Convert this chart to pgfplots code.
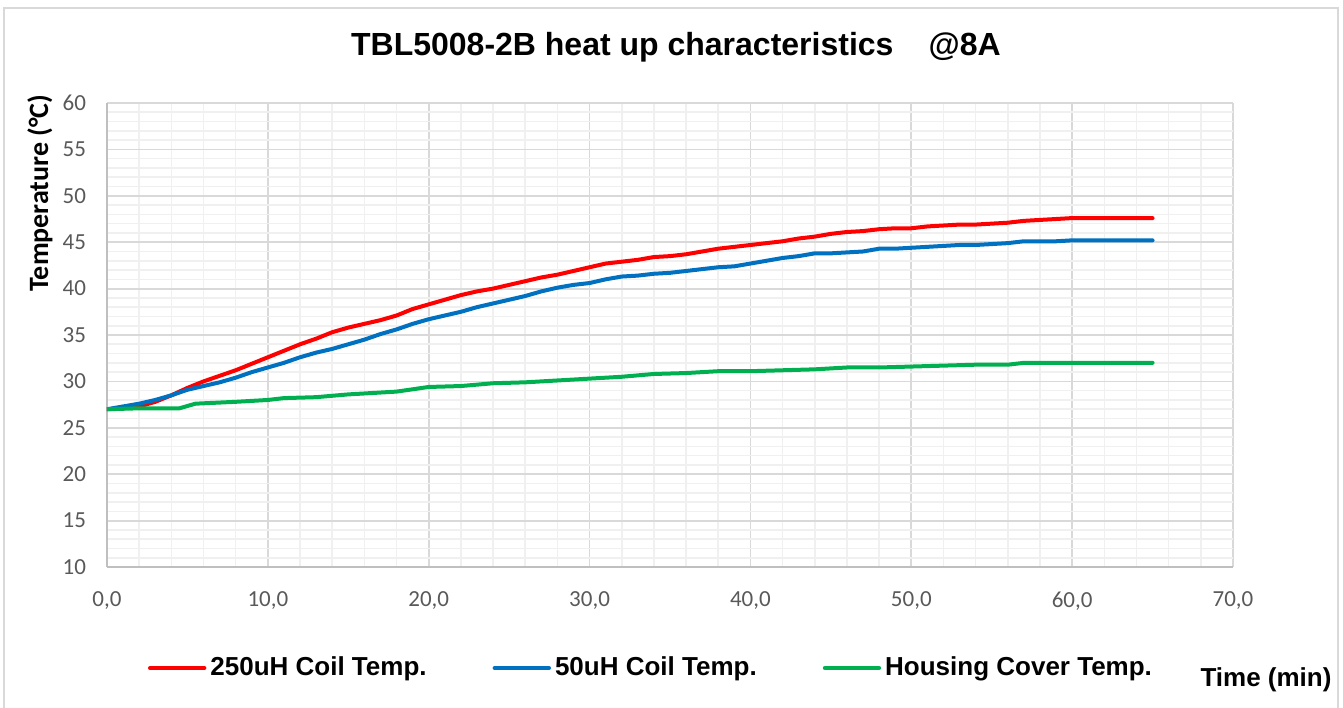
\documentclass[border=0pt]{standalone}
\usepackage{pgfplots}
\pgfplotsset{compat=1.18}
\usepackage{fontspec}
\setmainfont{Liberation Sans}
\newfontfamily\carlito{Carlito}
\definecolor{cred}{HTML}{FF0000}
\definecolor{cblue}{HTML}{0070C0}
\definecolor{cgreen}{HTML}{00B050}
\definecolor{gmaj}{HTML}{D9D9D9}
\definecolor{gmin}{HTML}{F0F0F0}
\definecolor{gax}{HTML}{BFBFBF}
\definecolor{tickc}{HTML}{595959}
\begin{document}
\begin{tikzpicture}
\path[use as bounding box] (-53.5pt,-70pt) rectangle (618pt,283.5pt);
\draw[gmaj, line width=0.8pt] (-51.5pt,-75pt) rectangle (615.5pt,279.5pt);
\begin{axis}[
  scale only axis, width=563pt, height=232pt,
  at={(0,0)}, anchor=south west,
  xmin=0, xmax=70, ymin=10, ymax=60,
  xtick={0,10,...,70}, ytick={10,15,...,60},
  minor x tick num=4, minor y tick num=4,
  grid=both,
  major grid style={gmaj, line width=0.9pt},
  minor grid style={gmin, line width=0.8pt},
  axis x line*=bottom, axis y line*=left,
  axis line style={gax, line width=1pt},
  major tick length=0pt, minor tick length=0pt,
  /pgf/number format/assume math mode=true,
  xticklabel style={/pgf/number format/.cd, fixed, fixed zerofill, precision=1, use comma},
  yticklabel style={/pgf/number format/.cd, fixed, precision=0},
  tick label style={font=\carlito\fontsize{11.5}{12}\selectfont, text=tickc},
  xticklabel shift=9pt, yticklabel shift=7pt,
  legend columns=3,
  legend style={draw=none, fill=none, inner sep=0pt, outer sep=0pt,
    at={(axis description cs:0.0364,-0.2177)}, anchor=west,
    font=\bfseries\fontsize{13}{14}\selectfont,
    /tikz/every even column/.append style={column sep=31pt},
    nodes={inner xsep=2pt, inner ysep=1pt}},
  legend image code/.code={\draw[line width=2.2pt] (0pt,0pt) -- (27pt,0pt);},
  every axis plot/.append style={line width=2pt, line join=round, line cap=round},
]
\addplot[cred] coordinates {
(0,27) (1,27.1) (2,27.3) (3,27.8) (4,28.5) (5,29.3) (6,30.0) (7,30.6) (8,31.2) (9,31.9) (10,32.6)
(11,33.3) (12,34.0) (13,34.6) (14,35.3) (15,35.8) (16,36.2) (17,36.6) (18,37.1) (19,37.8) (20,38.3)
(21,38.8) (22,39.3) (23,39.7) (24,40.0) (25,40.4) (26,40.8) (27,41.2) (28,41.5) (29,41.9) (30,42.3)
(31,42.7) (32,42.9) (33,43.1) (34,43.4) (35,43.5) (36,43.7) (37,44.0) (38,44.3) (39,44.5) (40,44.7)
(41,44.9) (42,45.1) (43,45.4) (44,45.6) (45,45.9) (46,46.1) (47,46.2) (48,46.4) (49,46.5) (50,46.5)
(51,46.7) (52,46.8) (53,46.9) (54,46.9) (55,47.0) (56,47.1) (57,47.3) (58,47.4) (59,47.5) (60,47.6)
(62,47.6) (65,47.6)};
\addlegendentry{250uH Coil Temp.}
\addplot[cblue] coordinates {
(0,27) (1,27.3) (2,27.6) (3,28.0) (4,28.5) (5,29.1) (6,29.5) (7,29.9) (8,30.4) (9,31.0) (10,31.5)
(11,32.0) (12,32.6) (13,33.1) (14,33.5) (15,34.0) (16,34.5) (17,35.1) (18,35.6) (19,36.2) (20,36.7)
(21,37.1) (22,37.5) (23,38.0) (24,38.4) (25,38.8) (26,39.2) (27,39.7) (28,40.1) (29,40.4) (30,40.6)
(31,41.0) (32,41.3) (33,41.4) (34,41.6) (35,41.7) (36,41.9) (37,42.1) (38,42.3) (39,42.4) (40,42.7)
(41,43.0) (42,43.3) (43,43.5) (44,43.8) (45,43.8) (46,43.9) (47,44.0) (48,44.3) (49,44.3) (50,44.4)
(51,44.5) (52,44.6) (53,44.7) (54,44.7) (55,44.8) (56,44.9) (57,45.1) (58,45.1) (59,45.1) (60,45.2)
(62,45.2) (65,45.2)};
\addlegendentry{50uH Coil Temp.}
\addplot[cgreen] coordinates {
(0,27) (2,27.1) (4.5,27.1) (5.5,27.6) (8,27.8) (10,28.0) (11,28.2) (13,28.3) (15,28.6) (18,28.9)
(20,29.4) (22,29.5) (24,29.8) (26,29.9) (27,30.0) (30,30.3) (32,30.5) (34,30.8) (36,30.9) (38,31.1)
(40,31.1) (42,31.2) (44,31.3) (46,31.5) (48,31.5) (50,31.6) (52,31.7) (54,31.8) (56,31.8) (57,32.0)
(60,32.0) (65,32.0)};
\addlegendentry{Housing Cover Temp.}
\end{axis}
\node[font=\bfseries\fontsize{16}{18}\selectfont] at (284.5pt,260pt) {TBL5008-2B heat up characteristics\hspace{1.1em}@8A};
\node[font=\carlito\bfseries\fontsize{14}{16}\selectfont, rotate=90] at (-33.5pt,187pt) {Temperature (°C)};
\node[font=\bfseries\fontsize{13}{15}\selectfont] at (579.5pt,-56.5pt) {Time (min)};
\end{tikzpicture}
\end{document}
